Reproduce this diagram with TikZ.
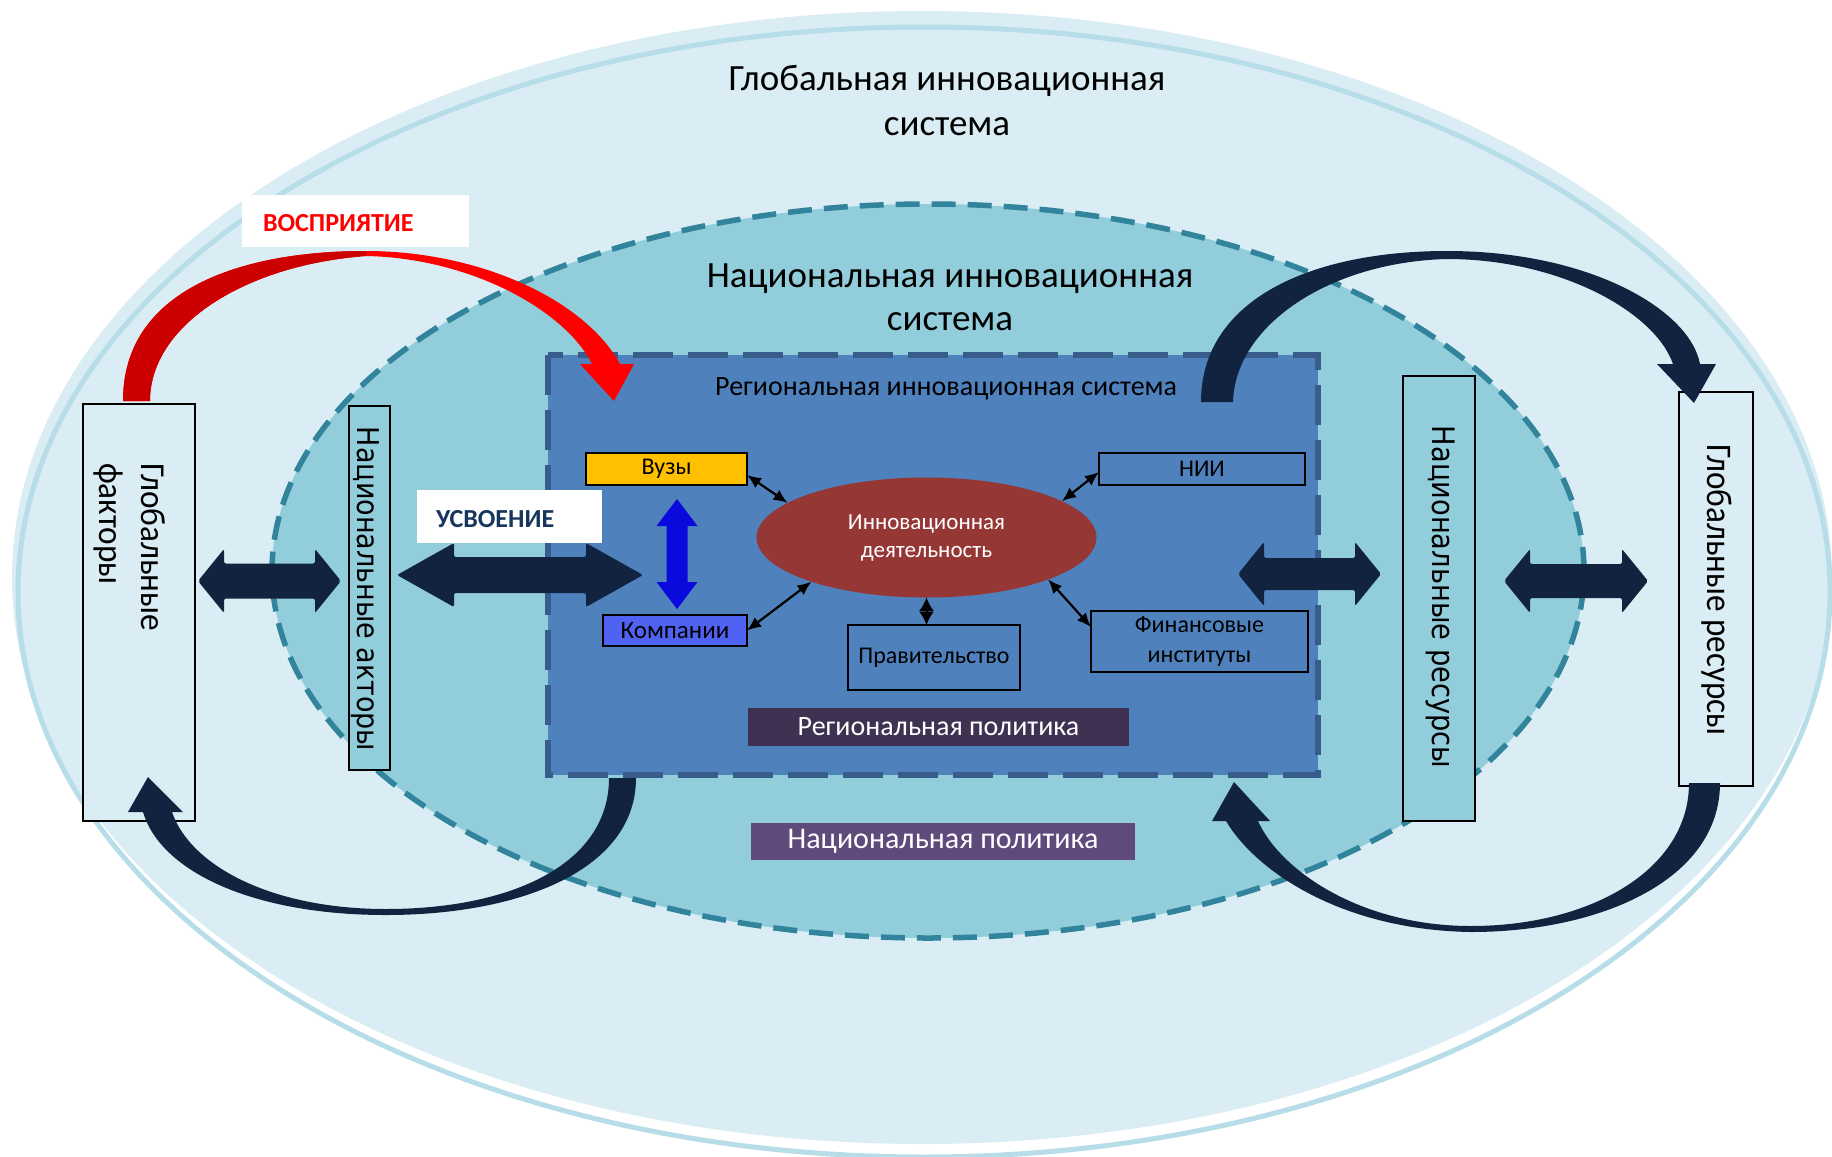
\documentclass[tikz,border=0pt]{standalone}
\usepackage{fontspec}
\setmainfont{Carlito}
\newfontfamily\dejavu{DejaVu Sans}
\usepackage{graphicx}
\usetikzlibrary{arrows.meta,calc,shapes.geometric}
\definecolor{outerfill}{HTML}{DAEDF4}
\definecolor{outerline}{HTML}{B7DDE8}
\definecolor{natfill}{HTML}{92CDDC}
\definecolor{natline}{HTML}{31849B}
\definecolor{regfill}{HTML}{4F81BD}
\definecolor{regline}{HTML}{385D8A}
\definecolor{navy}{HTML}{11233E}
\definecolor{blueA}{HTML}{0A0ADC}
\definecolor{kompfill}{HTML}{5062F2}
\definecolor{vuzfill}{HTML}{FFC000}
\definecolor{innored}{HTML}{953735}
\definecolor{regpolfill}{HTML}{3F3151}
\definecolor{natpolfill}{HTML}{604A7B}
\definecolor{usvtext}{HTML}{17365D}
\definecolor{redA}{HTML}{FF0000}
\definecolor{redB}{HTML}{CC0000}
\newcommand\fs[2]{\fontsize{#1}{#2}\selectfont}
% horizontal double arrow: x1,x2,y,headlen,headhalf,shafthalf,colour
\newcommand\hdarrow[7]{%
  \fill[#7,rounded corners=2pt] (#1,#3) -- ({#1+#4},{#3-#5}) -- ({#1+#4},{#3-#6}) -- ({#2-#4},{#3-#6}) -- ({#2-#4},{#3-#5}) -- (#2,#3) -- ({#2-#4},{#3+#5}) -- ({#2-#4},{#3+#6}) -- ({#1+#4},{#3+#6}) -- ({#1+#4},{#3+#5}) -- cycle;}
% vertical double arrow: x,y1,y2,headlen,headhalf,shafthalf,colour
\newcommand\vdarrow[7]{%
  \fill[#7] (#1,#2) -- ({#1+#5},{#2+#4}) -- ({#1+#6},{#2+#4}) -- ({#1+#6},{#3-#4}) -- ({#1+#5},{#3-#4}) -- (#1,#3) -- ({#1-#5},{#3-#4}) -- ({#1-#6},{#3-#4}) -- ({#1-#6},{#2+#4}) -- ({#1-#5},{#2+#4}) -- cycle;}
\begin{document}
\begin{tikzpicture}[x=1pt,y=-1pt,
  box/.style={draw=black,line width=1.5pt,inner sep=0pt,outer sep=0pt},
  plainbox/.style={inner sep=0pt,outer sep=0pt},
  smalltxt/.style={font=\fs{24}{30}},
  thinarrow/.style={line width=2.2pt,{Latex[length=14pt,width=12pt]}-{Latex[length=14pt,width=12pt]}},
  vtext/.style={rotate=-90,inner sep=0pt,anchor=base}]
\useasboundingbox (0,0) rectangle (1832,1157);
\fill[white] (0,0) rectangle (1832,1157);
\clip (0,0) rectangle (1832,1157);

% global system
\fill[outerfill] (922,577.5) ellipse [x radius=910pt, y radius=566.5pt];
\draw[outerline,line width=5pt] (924,592) ellipse [x radius=906pt, y radius=565pt];
\node[plainbox,anchor=base,font=\fs{37}{45}] (glob1) at (947,90) {Глобальная инновационная};
\node[plainbox,anchor=base,font=\fs{37}{45}] (glob2) at (947,135) {система};

% national system
\filldraw[fill=natfill,draw=natline,line width=5.5pt,dash pattern=on 24pt off 12pt] (928,571) ellipse [x radius=656pt, y radius=367pt];
\node[plainbox,anchor=base,font=\fs{37}{45}] (nat1) at (950,287) {Национальная инновационная};
\node[plainbox,anchor=base,font=\fs{37}{45}] (nat2) at (950,330) {система};

% regional system
\filldraw[fill=regfill,draw=regline,line width=5.5pt,dash pattern=on 40pt off 15pt] (548,355) rectangle (1318,775);
\node[plainbox,anchor=base,font=\fs{28}{34}] (reg) at (946,395) {Региональная инновационная система};

% inner actors
\node[box,fill=vuzfill,minimum width=161pt,minimum height=32pt,smalltxt] (vuzy) at (666.5,469) {Вузы};
\node[box,fill=regfill,minimum width=206pt,minimum height=32pt,smalltxt] (nii) at (1202,469) {НИИ};
\node[box,fill=kompfill,minimum width=144pt,minimum height=31pt,font=\fs{25}{30}] (komp) at (675,630.5) {Компании};
\node[box,fill=regfill,minimum width=172pt,minimum height=65pt,smalltxt] (prav) at (934,657.5) {Правительство};
\node[box,fill=regfill,minimum width=217pt,minimum height=61pt,smalltxt,align=center] (fin) at (1199.5,641.5) {Финансовые\\институты};
\node[ellipse,fill=innored,inner sep=0pt,outer sep=0pt,minimum width=340pt,minimum height=120pt,text=white,font=\fs{23}{28},align=center] (inno) at (926.5,537.5) {Инновационная\\деятельность};
\node[plainbox,fill=regpolfill,minimum width=381pt,minimum height=38pt,text=white,font=\fs{28}{34}] (regpol) at (938.5,727) {Региональная политика};
\node[plainbox,fill=natpolfill,minimum width=384pt,minimum height=37pt,text=white,font=\fs{30}{36}] (natpol) at (943,841.5) {Национальная политика};

% thin connectors
\draw[thinarrow] ($(vuzy.east)+(0,6)$) -- (inno.166);
\draw[thinarrow] ($(nii.west)+(0,3)$) -- (inno.15.5);
\draw[thinarrow] (komp.east) -- (inno.201);
\draw[thinarrow] ($(fin.west)+(0,-14.5)$) -- (inno.-19.2);
\draw[line width=2pt,{Latex[length=13.5pt,width=15pt]}-{Latex[length=13.5pt,width=15pt]}] (inno.south) -- (inno.south |- prav.north);

% blue arrow between Вузы and Компании
\vdarrow{677}{499}{609}{27}{20.5}{10.5}{blueA}

% side boxes
\node[box,fill=outerfill,minimum width=112pt,minimum height=417pt] (gf) at (139,612.5) {};
\node[vtext,anchor=base west,font=\fs{35}{42}] (gf1) at (141,463) {\scalebox{0.95}[1]{Глобальные}};
\node[vtext,anchor=base west,font=\fs{35}{42}] (gf2) at (99,463) {\scalebox{0.95}[1]{факторы}};
\node[box,fill=natfill,minimum width=41pt,minimum height=364pt] (na) at (369.5,588) {};
\node[vtext,font=\dejavu\fs{30}{36}] (natxt) at (357,589) {\scalebox{0.9}[1]{Национальные акторы}};
\node[box,fill=natfill,minimum width=72pt,minimum height=445pt] (nr) at (1439,598.5) {};
\node[vtext,font=\dejavu\fs{31}{36}] (nrtxt) at (1432,597) {\scalebox{0.88}[1]{Национальные ресурсы}};
\node[box,fill=outerfill,minimum width=74pt,minimum height=394pt] (gr) at (1716,589) {};
\node[vtext,font=\fs{36}{42}] (grtxt) at (1707,590) {\scalebox{0.92}[1]{Глобальные ресурсы}};

% fat double arrows
\hdarrow{198}{341}{581}{26}{32}{17.5}{navy}
\hdarrow{397}{643}{575}{57}{32}{18}{navy}
\hdarrow{1238}{1381}{574}{26}{32}{16}{navy}
\hdarrow{1504}{1648}{581}{26}{32}{17}{navy}

% red curved arrow (ВОСПРИЯТИЕ)
\fill[redA] (123,401) .. controls (123,290) and (240,251) .. (366,251) .. controls (480,251) and (585,300) .. (620,364) -- (634,364) -- (614,401) -- (580,364) -- (592,364) .. controls (565,310) and (470,258) .. (366,256) .. controls (245,265) and (150,325) .. (150,401) -- cycle;
\begin{scope}
\clip (0,0) rectangle (366,1157);
\fill[redB] (123,401) .. controls (123,290) and (240,251) .. (366,251) .. controls (480,251) and (585,300) .. (620,364) -- (634,364) -- (614,401) -- (580,364) -- (592,364) .. controls (565,310) and (470,258) .. (366,256) .. controls (245,265) and (150,325) .. (150,401) -- cycle;
\end{scope}

% dark curved arrows
\fill[navy] (1201,402) .. controls (1201,300) and (1310,251) .. (1447,251) .. controls (1590,251) and (1690,310) .. (1700,364) -- (1716,364) -- (1694,403) -- (1657,364) -- (1673,364) .. controls (1655,312) and (1560,259) .. (1447,259) .. controls (1330,262) and (1235,325) .. (1233,402) -- cycle;
\fill[navy] (636,778) .. controls (636,870) and (520,915) .. (386,915) .. controls (250,915) and (160,870) .. (143,812) -- (128,812) -- (148,777) -- (183,812) -- (172,812) .. controls (190,865) and (270,909) .. (386,909) .. controls (510,909) and (609,865) .. (609,778) -- cycle;
\fill[navy] (1720,783) .. controls (1720,880) and (1600,932) .. (1471,932) .. controls (1340,930) and (1255,870) .. (1226,821) -- (1212,821) -- (1234,782) -- (1270,821) -- (1258,821) .. controls (1280,870) and (1360,926) .. (1471,926) .. controls (1590,926) and (1689,870) .. (1689,783) -- cycle;

% labels
\node[plainbox,fill=white,minimum width=185pt,minimum height=53pt] (usvbox) at (509.5,516.5) {};
\node[plainbox,anchor=base west,font=\bfseries\fs{26}{30},text=usvtext] (usv) at (436,527) {УСВОЕНИЕ};
\node[plainbox,fill=white,minimum width=227pt,minimum height=52pt] (vosbox) at (355.5,221) {};
\node[plainbox,anchor=base west,font=\bfseries\fs{26}{30},text=redA] (vos) at (263,231) {ВОСПРИЯТИЕ};
\end{tikzpicture}
\end{document}
